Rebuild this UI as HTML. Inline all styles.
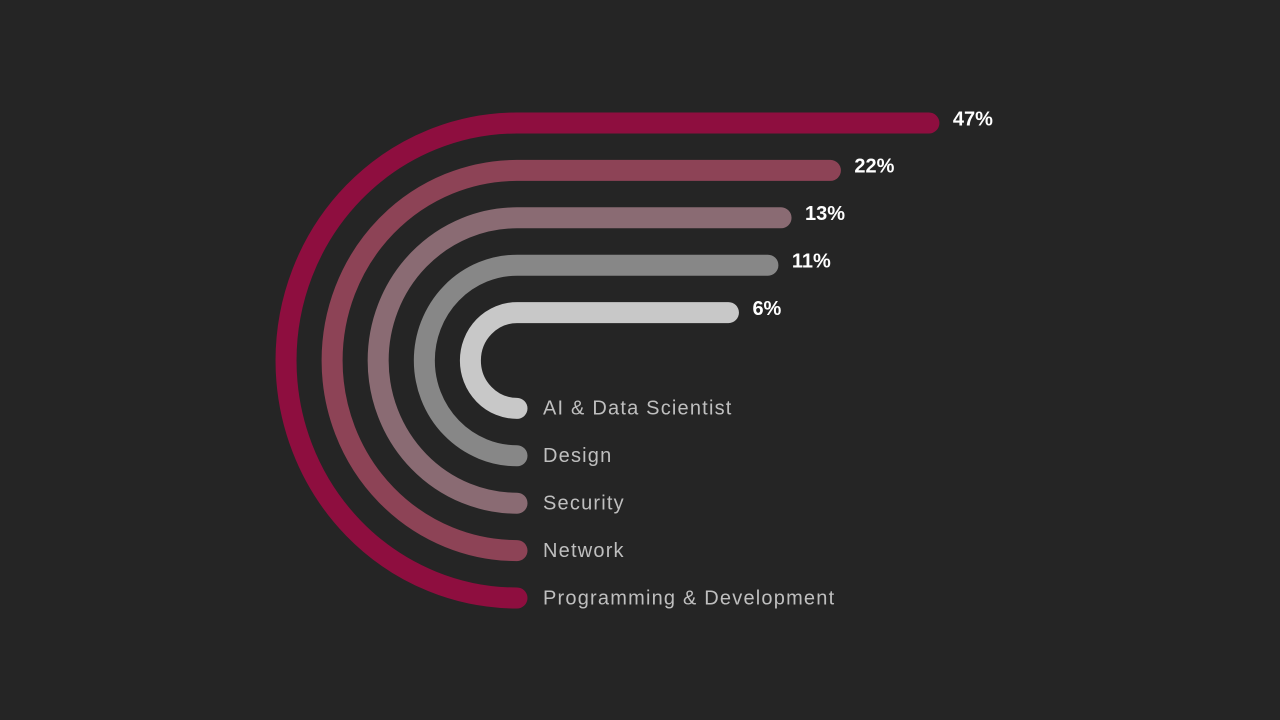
<!DOCTYPE html>
<html><head><meta charset="utf-8">
<style>
html,body{margin:0;padding:0;background:#252525;}
svg{display:block;}
</style></head>
<body>
<svg id="chart" width="1280" height="720" viewBox="0 0 1280 720" xmlns="http://www.w3.org/2000/svg">
<rect x="0" y="0" width="1280" height="720" fill="#252525"/>
<g id="marks"></g>
</svg>
<script>
const categories = ["Programming & Development","Network","Security","Design","AI & Data Scientist"];
const values = [47,22,13,11,6];
const valueLabels = ["47%","22%","13%","11%","6%"];
const colors = ["#8e0e3f","#8d4356","#8a6b73","#878787","#c8c8c8"];

const NS = "http://www.w3.org/2000/svg";
const g = document.getElementById('marks');
const cx = 517, cy = 360.5, r0 = 237.5, step = 47.4, sw = 21;
function lenScale(v){ return 100 + 45.5*Math.sqrt(v); }
values.forEach((v,i)=>{
  const r = r0 - i*step;
  const rx = r*0.973;
  const yTop = cy - r, yBot = cy + r;
  const xEnd = cx + lenScale(v);
  const p = document.createElementNS(NS,'path');
  p.setAttribute('d',`M ${cx} ${yBot} A ${rx} ${r} 0 0 1 ${cx} ${yTop} L ${xEnd} ${yTop}`);
  p.setAttribute('fill','none');
  p.setAttribute('stroke',colors[i]);
  p.setAttribute('stroke-width',sw);
  p.setAttribute('stroke-linecap','round');
  
  
  g.appendChild(p);
  const t = document.createElementNS(NS,'text');
  t.setAttribute('x', xEnd + 24);
  t.setAttribute('y', yTop - 3);
  t.setAttribute('fill','#ffffff');
  t.setAttribute('font-family','"Liberation Sans", sans-serif');
  t.setAttribute('font-weight','bold');
  t.setAttribute('font-size','20');
  t.setAttribute('dominant-baseline','middle');
  t.textContent = valueLabels[i];
  
  
  g.appendChild(t);
  const c = document.createElementNS(NS,'text');
  c.setAttribute('x', 543);
  c.setAttribute('y', yBot + 1);
  c.setAttribute('fill','#bfbfbf');
  c.setAttribute('font-family','"Liberation Sans", sans-serif');
  c.setAttribute('font-size','20');
  c.setAttribute('letter-spacing','1.2');
  c.setAttribute('dominant-baseline','middle');
  c.textContent = categories[i];
  
  
  g.appendChild(c);
});
</script>
</body></html>
